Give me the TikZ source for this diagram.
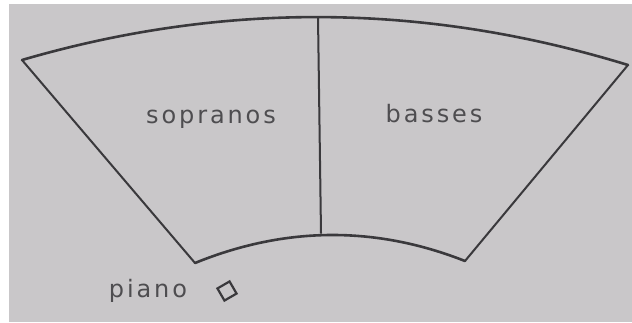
\documentclass[tikz,border=0pt]{standalone}
\usepackage{fontspec}
\newfontfamily\handfont[LetterSpace=12]{DejaVu Sans}
\definecolor{paper}{HTML}{C9C7C9}
\definecolor{ink}{HTML}{3A393C}
\begin{document}
\begin{tikzpicture}[x=1pt, y=-1pt]
    \tikzstyle{rim} += [draw=ink, line width=2.6pt, line cap=round, line join=round];
    \tikzstyle{side} += [draw=ink, line width=2pt, line cap=round];
    \tikzstyle{lbl} += [font=\handfont\fontsize{24}{28}\selectfont, text=ink!90, anchor=base, inner sep=0pt];

    % paper
    \fill[white] (0,0) rectangle (632,322);
    \fill[paper] (9,4) rectangle (632,322);
    \useasboundingbox (0,0) rectangle (632,322);

    \coordinate (ol) at ( 22, 60);
    \coordinate (or) at (628, 65);
    \coordinate (il) at (195,263);
    \coordinate (ir) at (465,261);
    \coordinate (dt) at (318, 17);
    \coordinate (db) at (321,233);

    % fan outline
    \draw[rim] (ol) .. controls (224,1) and (426,3) .. (or);
    \draw[rim] (il) .. controls (286,226) and (376,226) .. (ir);
    \draw[side] (ol) -- (il);
    \draw[side] (or) -- (ir);
    \draw[side] (dt) -- (db);

    \node (sop) at (211,123) [lbl] {sopranos};
    \node (bas) at (434,122) [lbl] {basses};
    \node (pia) at (148,297) [lbl] {piano};
    \node (pno) at (227,291) [draw=ink, line width=2.2pt, rectangle, rotate=30,
                              minimum size=14pt, inner sep=0pt] {};
  \end{tikzpicture}
\end{document}
